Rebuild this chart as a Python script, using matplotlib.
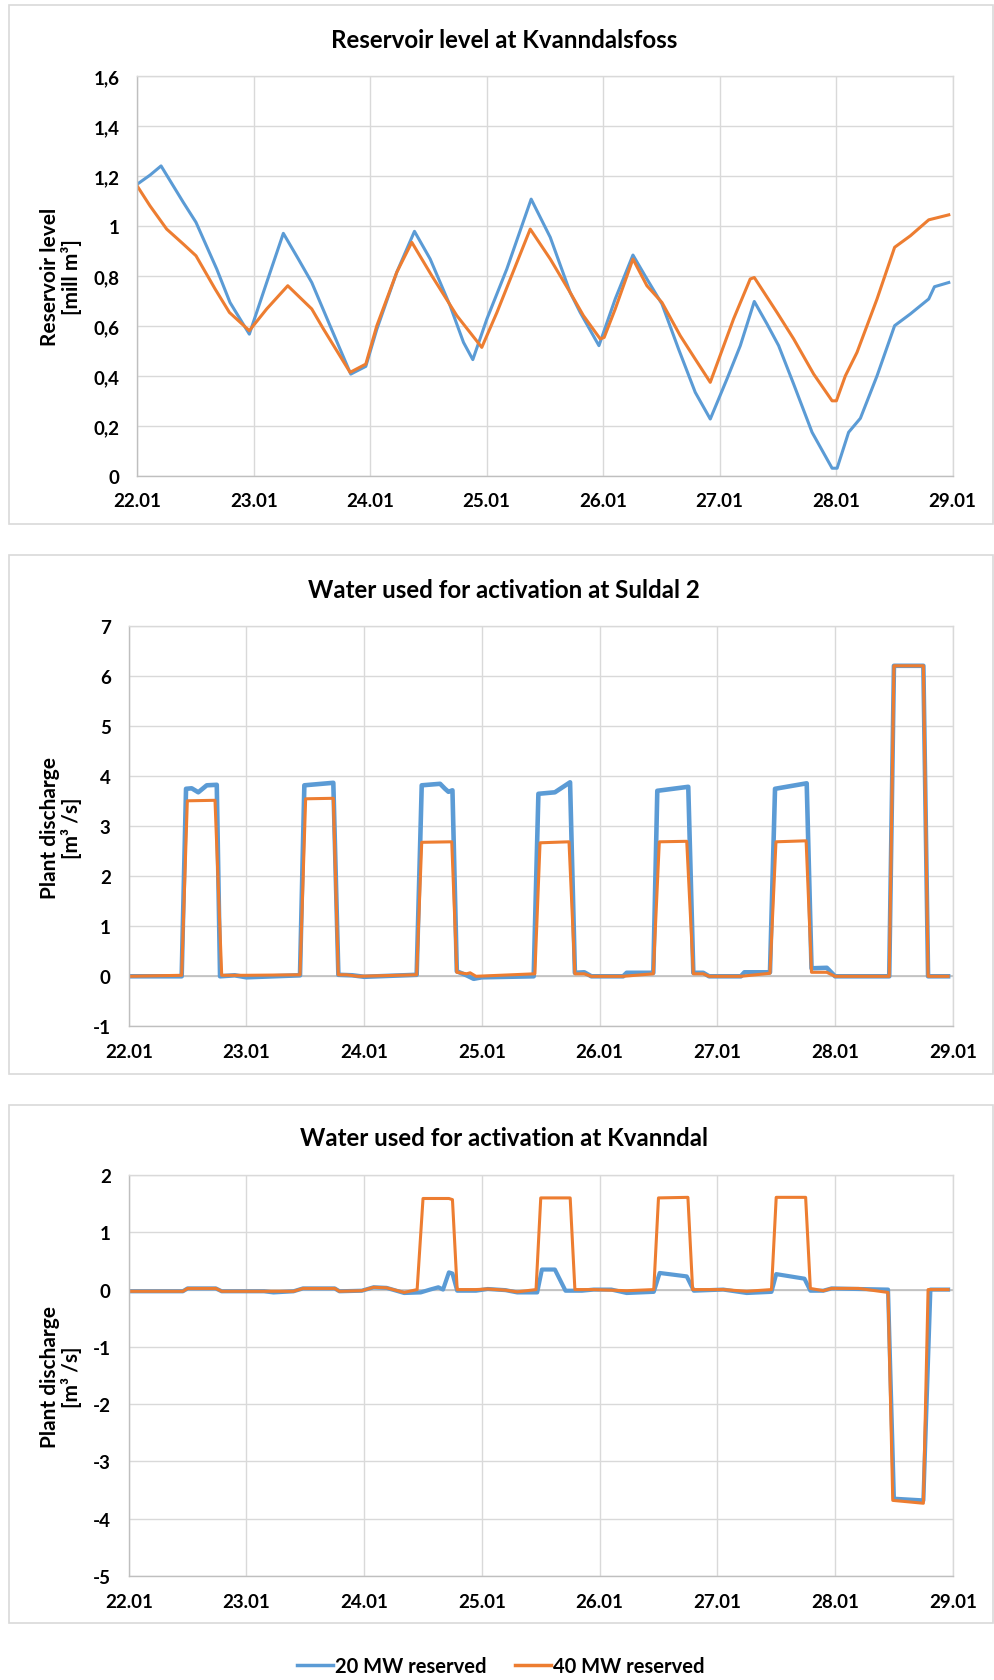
import matplotlib
matplotlib.use("Agg")
import matplotlib.pyplot as plt
from matplotlib.patches import Rectangle
from matplotlib.lines import Line2D

# font: Calibri-like look
FONT = ['Lato', 'Liberation Sans', 'DejaVu Sans']
plt.rcParams['font.family'] = FONT
plt.rcParams['font.weight'] = 'bold'

BLUE = '#5B9BD5'
ORANGE = '#ED7D31'
GRID = '#D9D9D9'

day_labels = ['22.01', '23.01', '24.01', '25.01', '26.01', '27.01', '28.01', '29.01']

# 1. Reservoir level at Kvanndalsfoss (days after 22.01, mill m3)
res_x_20 = [0, 0.109, 0.204, 0.395, 0.504, 0.682, 0.796, 0.962, 1.111, 1.254, 1.383, 1.498, 1.655,
            1.833, 1.962, 2.057, 2.228, 2.380, 2.515, 2.686, 2.801, 2.881, 3.002, 3.173, 3.382, 3.546,
            3.717, 3.803, 3.964, 4.104, 4.256, 4.376, 4.505, 4.648, 4.791, 4.920, 5.063, 5.178, 5.298,
            5.407, 5.507, 5.636, 5.794, 5.966, 6.009, 6.108, 6.209, 6.352, 6.503, 6.638, 6.796, 6.845, 6.968]
res_y_20 = [1.168, 1.204, 1.241, 1.095, 1.015, 0.828, 0.694, 0.567, 0.774, 0.971, 0.868, 0.774, 0.601,
            0.407, 0.438, 0.587, 0.815, 0.979, 0.868, 0.681, 0.534, 0.465, 0.628, 0.828, 1.108, 0.955,
            0.734, 0.654, 0.521, 0.708, 0.884, 0.788, 0.688, 0.507, 0.334, 0.227, 0.387, 0.521, 0.698,
            0.608, 0.521, 0.367, 0.174, 0.030, 0.030, 0.174, 0.230, 0.400, 0.601, 0.648, 0.708, 0.757, 0.774]
res_x_40 = [0, 0.109, 0.252, 0.395, 0.504, 0.668, 0.791, 0.962, 1.111, 1.292, 1.498, 1.598, 1.827,
            1.962, 2.057, 2.228, 2.357, 2.529, 2.744, 2.958, 3.088, 3.374, 3.546, 3.717, 3.831, 3.975,
            4.009, 4.104, 4.256, 4.376, 4.505, 4.662, 4.791, 4.920, 5.120, 5.263, 5.298, 5.493, 5.636,
            5.808, 5.966, 6.003, 6.080, 6.180, 6.352, 6.503, 6.638, 6.796, 6.968]
res_y_40 = [1.160, 1.081, 0.988, 0.928, 0.881, 0.748, 0.654, 0.581, 0.668, 0.761, 0.668, 0.588, 0.414,
            0.447, 0.601, 0.815, 0.935, 0.801, 0.641, 0.514, 0.654, 0.988, 0.868, 0.734, 0.641, 0.548,
            0.554, 0.668, 0.868, 0.761, 0.694, 0.561, 0.467, 0.374, 0.628, 0.788, 0.794, 0.654, 0.548,
            0.407, 0.300, 0.300, 0.400, 0.494, 0.708, 0.915, 0.961, 1.025, 1.045]

# 2. Water used for activation at Suldal 2 (m3/s)
sul_x_20 = [0, 0.45, 0.487, 0.535, 0.591, 0.663, 0.748, 0.776, 0.90, 1.0, 1.455, 1.492, 1.738, 1.781,
            1.90, 2.0, 2.446, 2.489, 2.645, 2.687, 2.716, 2.750, 2.787, 2.87, 2.93, 3.0, 3.44, 3.48,
            3.62, 3.749, 3.79, 3.87, 3.93, 4.20, 4.23, 4.456, 4.49, 4.753, 4.796, 4.88, 4.93, 5.20,
            5.23, 5.447, 5.49, 5.759, 5.80, 5.93, 6.0, 6.46, 6.50, 6.75, 6.79, 6.96]
sul_y_20 = [0, 0, 3.75, 3.76, 3.68, 3.82, 3.83, 0, 0.02, -0.02, 0.02, 3.82, 3.87, 0.03,
            0.02, -0.01, 0.03, 3.82, 3.85, 3.75, 3.69, 3.72, 0.10, 0.02, -0.05, -0.02, 0.0, 3.65,
            3.68, 3.88, 0.07, 0.08, 0.0, 0.0, 0.07, 0.07, 3.71, 3.79, 0.07, 0.07, 0.0, 0.0,
            0.08, 0.08, 3.75, 3.86, 0.16, 0.17, 0.0, 0.0, 6.21, 6.21, 0.0, 0.0]
sul_x_40 = [0, 0.45, 0.498, 0.733, 0.79, 1.0, 1.455, 1.503, 1.738, 1.78, 1.85, 1.95, 2.446, 2.489,
            2.744, 2.787, 2.87, 2.90, 2.95, 3.45, 3.494, 3.74, 3.79, 3.87, 3.93, 4.20, 4.456, 4.507,
            4.74, 4.796, 4.88, 4.93, 5.20, 5.447, 5.498, 5.754, 5.80, 5.93, 6.0, 6.46, 6.50, 6.75,
            6.79, 6.96]
sul_y_40 = [0.0, 0.02, 3.51, 3.52, 0.02, 0.02, 0.03, 3.55, 3.56, 0.03, 0.03, 0.0, 0.03, 2.68,
            2.69, 0.08, 0.05, 0.07, 0.0, 0.05, 2.67, 2.69, 0.05, 0.05, 0.0, 0.0, 0.05, 2.69,
            2.70, 0.05, 0.05, 0.0, 0.0, 0.06, 2.69, 2.71, 0.08, 0.08, 0.0, 0.0, 6.21, 6.21,
            0.0, 0.0]

# 3. Water used for activation at Kvanndal (m3/s)
kva_x_20 = [0, 0.46, 0.50, 0.74, 0.79, 1.15, 1.23, 1.40, 1.48, 1.75, 1.79, 1.98, 2.08, 2.19, 2.34,
            2.48, 2.56, 2.63, 2.67, 2.72, 2.75, 2.79, 2.95, 3.05, 3.20, 3.30, 3.47, 3.51, 3.62, 3.71,
            3.85, 3.95, 4.10, 4.23, 4.46, 4.51, 4.74, 4.80, 5.05, 5.25, 5.46, 5.50, 5.74, 5.79, 5.90,
            5.97, 6.20, 6.45, 6.50, 6.75, 6.81, 6.96]
kva_y_20 = [-0.03, -0.03, 0.02, 0.02, -0.03, -0.03, -0.05, -0.03, 0.02, 0.02, -0.03, -0.02, 0.04, 0.03, -0.06,
            -0.05, 0.0, 0.04, 0.0, 0.30, 0.28, -0.02, -0.02, 0.01, -0.01, -0.05, -0.05, 0.35, 0.35, -0.02,
            -0.02, 0.0, 0.0, -0.06, -0.04, 0.29, 0.23, -0.02, 0.0, -0.06, -0.04, 0.27, 0.19, -0.02, -0.02,
            0.02, 0.01, 0.0, -3.65, -3.68, 0.0, 0.0]
kva_x_40 = [0, 0.46, 0.50, 0.74, 0.79, 1.15, 1.23, 1.40, 1.48, 1.75, 1.79, 1.98, 2.08, 2.19, 2.34,
            2.45, 2.50, 2.72, 2.75, 2.79, 2.95, 3.05, 3.20, 3.30, 3.46, 3.50, 3.75, 3.79, 3.95, 4.23,
            4.46, 4.50, 4.75, 4.79, 5.05, 5.25, 5.46, 5.50, 5.75, 5.79, 5.90, 5.97, 6.20, 6.45, 6.49,
            6.75, 6.79, 6.96]
kva_y_40 = [-0.03, -0.03, 0.02, 0.02, -0.03, -0.03, -0.03, -0.03, 0.02, 0.02, -0.03, -0.02, 0.04, 0.03, -0.05,
            0.0, 1.59, 1.59, 1.57, 0.0, 0.0, 0.01, -0.01, -0.04, 0.0, 1.60, 1.60, 0.0, 0.0, -0.02,
            0.0, 1.60, 1.61, 0.0, 0.0, -0.03, 0.0, 1.61, 1.61, 0.02, -0.02, 0.02, 0.02, -0.05, -3.68,
            -3.73, 0.0, 0.0]

W, H = 994, 1681
fig = plt.figure(figsize=(W / 100, H / 100), dpi=100)


def px_axes(left, top, right, bottom):
    return fig.add_axes([left / W, 1 - bottom / H, (right - left) / W, (bottom - top) / H])


def frame(top, bottom):
    fig.patches.append(Rectangle((9 / W, 1 - bottom / H), (993 - 9) / W, (bottom - top) / H,
                                 transform=fig.transFigure, fill=False, edgecolor=GRID, lw=1.2))


def style(ax, yticks, ylabels):
    ax.set_xlim(0, 7)
    ax.set_xticks(range(8))
    ax.set_xticklabels(day_labels)
    ax.set_ylim(yticks[0], yticks[-1])
    ax.set_yticks(yticks)
    ax.set_yticklabels(ylabels)
    ax.grid(True, color=GRID, lw=1.0)
    ax.set_axisbelow(True)
    for s in ax.spines.values():
        s.set_color(GRID)
        s.set_linewidth(1.0)
    ax.spines['left'].set_color('#BFBFBF')
    ax.spines['bottom'].set_color('#BFBFBF')
    ax.tick_params(length=0, labelsize=13.5, colors='black')
    ax.tick_params(axis='y', pad=13)
    ax.tick_params(axis='x', pad=12)


TITLE_SIZE = 17.4
LABEL_SIZE = 15

# panel 1
frame(6, 525)
ax1 = px_axes(137.3, 77.3, 952.5, 476.7)
ax1.plot(res_x_20, res_y_20, color=BLUE, lw=2.2)
ax1.plot(res_x_40, res_y_40, color=ORANGE, lw=2.2)
style(ax1, [0, 0.2, 0.4, 0.6, 0.8, 1.0, 1.2, 1.4, 1.6],
      ['0', '0,2', '0,4', '0,6', '0,8', '1', '1,2', '1,4', '1,6'])
fig.text(504 / W, 1 - 40 / H, 'Reservoir level at Kvanndalsfoss', ha='center', va='center', fontsize=TITLE_SIZE)
fig.text(61 / W, 1 - 277 / H, 'Reservoir level\n[mill m³]', rotation=90, ha='center', va='center',
         fontsize=LABEL_SIZE, multialignment='center', linespacing=1.1)

# panel 2
frame(556, 1075)
ax2 = px_axes(128.7, 627.3, 952.8, 1027.3)
ax2.axhline(0, color='#BFBFBF', lw=1.2, zorder=1)
ax2.plot(sul_x_20, sul_y_20, color=BLUE, lw=3.3)
ax2.plot(sul_x_40, sul_y_40, color=ORANGE, lw=2.2)
style(ax2, list(range(-1, 8)), [str(v) for v in range(-1, 8)])
fig.text(504 / W, 1 - 590 / H, 'Water used for activation at Suldal 2', ha='center', va='center', fontsize=TITLE_SIZE)
fig.text(61 / W, 1 - 828 / H, 'Plant discharge\n[m³ /s]', rotation=90, ha='center', va='center',
         fontsize=LABEL_SIZE, multialignment='center', linespacing=1.1)

# panel 3
frame(1105.6, 1623.5)
ax3 = px_axes(128.7, 1176, 952.8, 1577)
ax3.axhline(0, color='#BFBFBF', lw=1.2, zorder=1)
ax3.plot(kva_x_20, kva_y_20, color=BLUE, lw=3.0)
ax3.plot(kva_x_40, kva_y_40, color=ORANGE, lw=2.2)
style(ax3, list(range(-5, 3)), [str(v) for v in range(-5, 3)])
fig.text(504 / W, 1 - 1139 / H, 'Water used for activation at Kvanndal', ha='center', va='center', fontsize=TITLE_SIZE)
fig.text(61 / W, 1 - 1377 / H, 'Plant discharge\n[m³ /s]', rotation=90, ha='center', va='center',
         fontsize=LABEL_SIZE, multialignment='center', linespacing=1.1)

# legend
handles = [Line2D([], [], color=BLUE, lw=2.5), Line2D([], [], color=ORANGE, lw=2.5)]
fig.legend(handles, ['20 MW reserved', '40 MW reserved'], loc='center',
           bbox_to_anchor=(501 / W, 1 - 1667 / H), ncol=2, frameon=False, fontsize=14.5,
           handlelength=1.8, handletextpad=0.1, columnspacing=1.4)

fig.savefig('out.png', dpi=100)
